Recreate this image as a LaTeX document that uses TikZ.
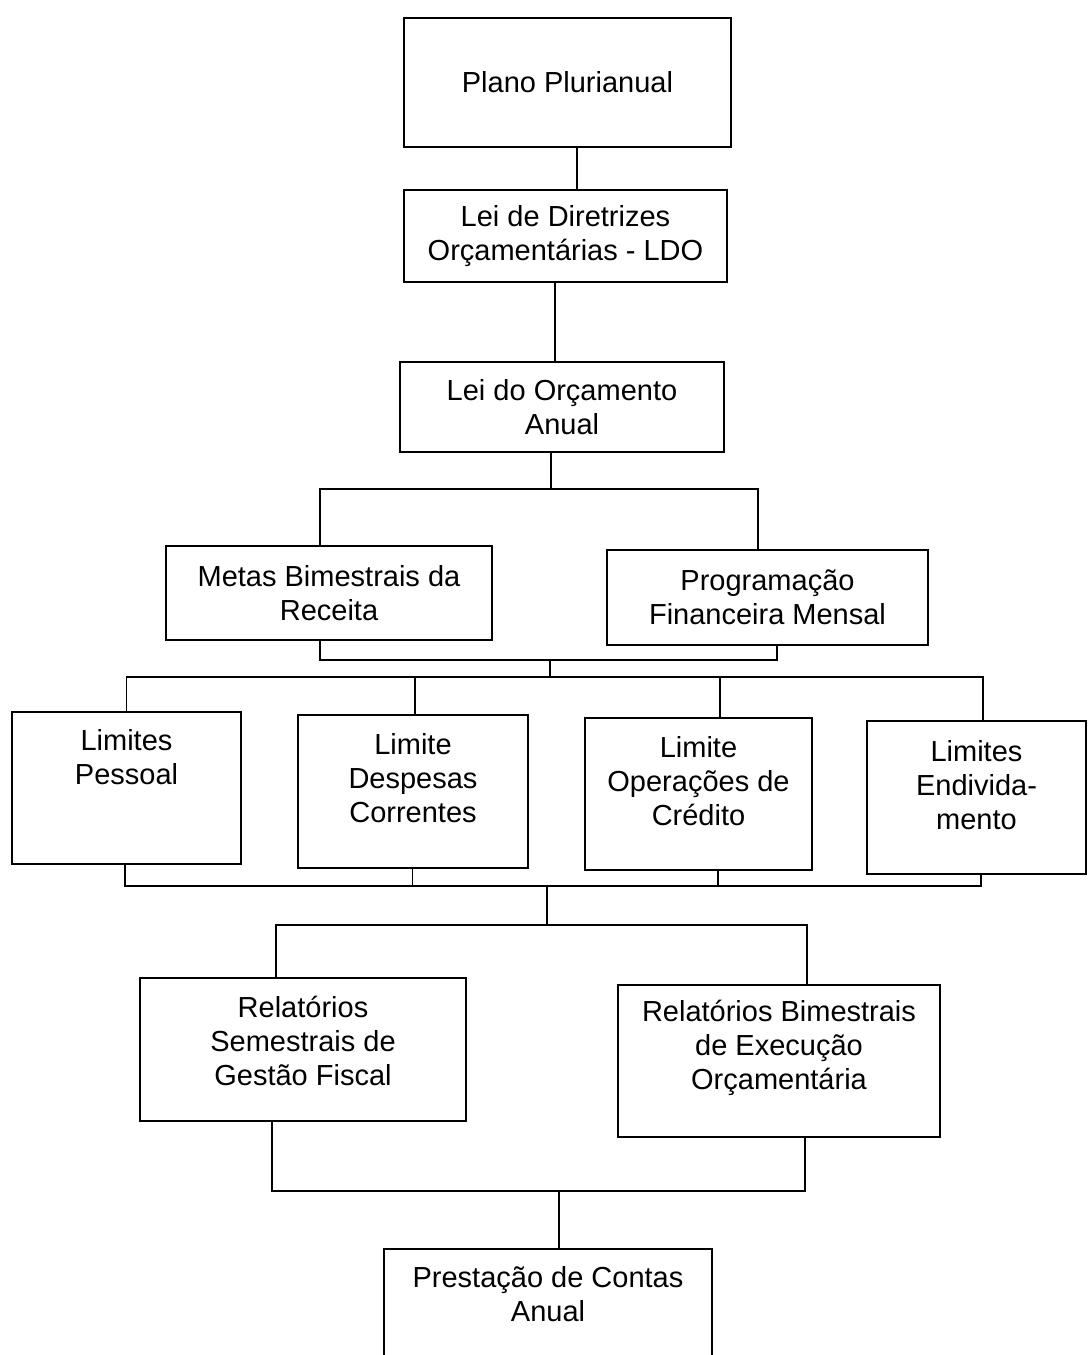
\documentclass[tikz,border=0pt]{standalone}
\usepackage{fontspec}
\setmainfont{Liberation Sans}
\usetikzlibrary{calc}
\newcommand{\padbelow}[1]{\rule[-#1]{0pt}{0pt}}

\begin{document}
\begin{tikzpicture}[x=0.5pt, y=-0.5pt]

    \tikzstyle{block}=[draw=black, line width=0.9pt, rectangle, align=center, inner sep=0pt, font=\fontsize{14.5}{17}\selectfont];
    \tikzstyle{openblock}=[block, draw=none];
    \tikzstyle{wire}=[line width=0.8pt];

    \useasboundingbox (0,0) rectangle (1088,1355);

    \node[block, minimum width=163.5pt, minimum height=64.5pt] (plano) at (567.5,82.5) {Plano Plurianual};
    \node[block, minimum width=161.5pt, minimum height=46pt] (ldo) at (565.5,236) {Lei de Diretrizes\\Orçamentárias - LDO};
    \node[block, minimum width=162pt, minimum height=45pt] (loa) at (562,407) {Lei do Orçamento\\Anual};

    \node[block, minimum width=163pt, minimum height=47pt] (metas) at (329,593) {Metas Bimestrais da\\Receita};
    \node[block, minimum width=160.5pt, minimum height=47.5pt] (prog) at (767.5,597.5) {Programação\\Financeira Mensal};

    \node[block, minimum width=114.5pt, minimum height=76pt] (pessoal) at (126.5,788) {Limites\\Pessoal\padbelow{31pt}};
    \node[block, minimum width=115pt, minimum height=76.5pt] (despesas) at (413,791.5) {Limite\\Despesas\\Correntes\padbelow{14pt}};
    \node[block, minimum width=113.5pt, minimum height=76pt] (credito) at (698.5,794) {Limite\\Operações de\\Crédito\padbelow{13pt}};
    \node[block, minimum width=109.5pt, minimum height=76.5pt] (endiv) at (976.5,797.5) {Limites\\Endivida-\\mento\padbelow{13pt}};

    \node[block, minimum width=163pt, minimum height=71.5pt] (semestrais) at (303,1049.5) {Relatórios\\Semestrais de\\Gestão Fiscal\padbelow{9pt}};
    \node[block, minimum width=161pt, minimum height=76pt] (bimestrais) at (779,1061) {Relatórios Bimestrais\\de Execução\\Orçamentária\padbelow{16pt}};

    \node[openblock, minimum width=163pt, minimum height=52.5pt] (contas) at (548,1302.5) {Prestação de Contas\\Anual\padbelow{9pt}};
    \draw[line width=0.9pt] (contas.south west) -- (contas.north west) -- (contas.north east) -- (contas.south east);

    \coordinate (j1) at (551,489);
    \coordinate (j2) at (550,660);
    \coordinate (j3) at (550,677);
    \coordinate (j4) at (547,886);
    \coordinate (j5) at (547,925);
    \coordinate (j6) at (559,1191);

    \draw[wire] ($(plano.south)+(9.5,0)$) coordinate (a1) -- (a1 |- ldo.north);
    \draw[wire] ($(ldo.south)+(-10.5,0)$) coordinate (a2) -- (a2 |- loa.north);
    \draw[wire] (loa.south -| j1) -- (j1);

    \draw[wire] (j1) -| ($(metas.north)+(-9,0)$);
    \draw[wire] (j1) -| ($(prog.north)+(-9.5,0)$);
    \draw[wire] ($(metas.south)+(-9,0)$) |- (j2);
    \draw[wire] (j2) -| ($(prog.south)+(9.5,0)$);
    \draw[wire] (j2) -- (j3);

    \draw[wire] (j3) -| (pessoal.north);
    \draw[wire] (j3) -| ($(despesas.north)+(2,0)$);
    \draw[wire] (j3) -| ($(credito.north)+(21.5,0)$);
    \draw[wire] (j3) -| ($(endiv.north)+(6.5,0)$);

    \draw[wire] ($(pessoal.south)+(-1.5,0)$) |- (j4);
    \draw[wire] ($(despesas.south)+(-0.5,0)$) coordinate (d1) -- (d1 |- j4);
    \draw[wire] ($(credito.south)+(19.5,0)$) coordinate (c1) -- (c1 |- j4);
    \draw[wire] (j4) -| ($(endiv.south)+(4.5,0)$);
    \draw[wire] (j4) -- (j5);

    \draw[wire] (j5) -| ($(semestrais.north)+(-27,0)$);
    \draw[wire] (j5) -| ($(bimestrais.north)+(28,0)$);

    \draw[wire] ($(semestrais.south)+(-31,0)$) |- (j6);
    \draw[wire] (j6) -| ($(bimestrais.south)+(26,0)$);
    \draw[wire] (j6) -- (j6 |- contas.north);
\end{tikzpicture}
\end{document}
